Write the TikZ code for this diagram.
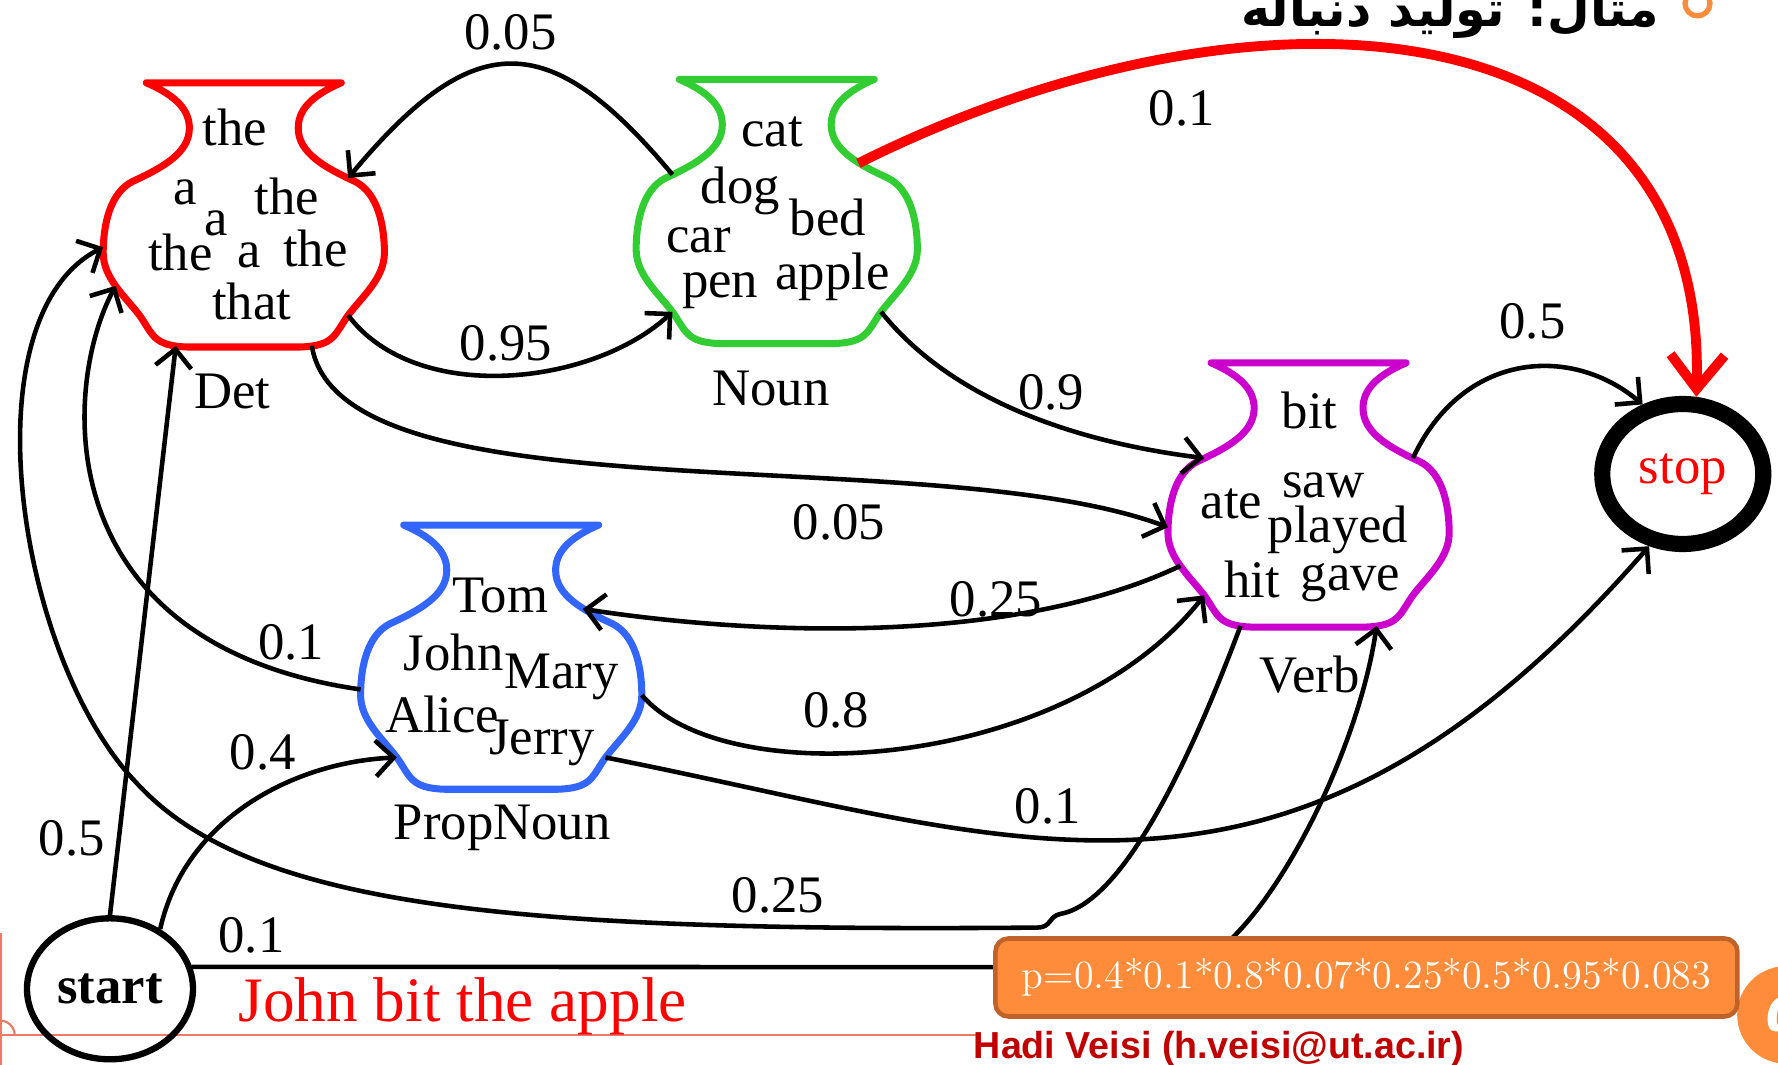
\documentclass[tikz,border=0pt]{standalone}
\usepackage{fontspec}
\newfontfamily\tmsfont{Liberation Serif}
\newfontfamily\sigfont{Liberation Sans}
\newfontfamily\arabicfont[Script=Arabic]{DejaVu Sans}
\TeXXeTstate=1
\usetikzlibrary{shapes.geometric,% ellipse nodes for start and stop
arrows.meta}%                       barbed tips on the transitions
\definecolor{detred}{RGB}{255,0,0}
\definecolor{noungreen}{RGB}{50,205,50}
\definecolor{verbpurple}{RGB}{204,0,204}
\definecolor{propblue}{RGB}{51,102,255}
\definecolor{boxorange}{RGB}{255,140,58}
\definecolor{boxrim}{RGB}{192,98,42}
\definecolor{signred}{RGB}{192,0,0}
\definecolor{rulesalmon}{RGB}{240,120,100}
\tikzset{every node/.style={font=\tmsfont\fontsize{15}{18}\selectfont},
  trans/.style={->,line width=1.3pt},
  jar/.style={line width=2pt,line join=round},
  hmmstate/.style={ellipse,draw,inner sep=0pt},
  vase/.pic={%
    \draw[jar] (-86,0) -- (86,0)
      .. controls (58,12) and (48,25) .. (48,40)
      .. controls (48,62) and (72,75) .. (98,87)
      .. controls (118,97) and (124,125) .. (124,150)
      .. controls (124,172) and (105,188) .. (92,205)
      .. controls (80,222) and (80,232) .. (50,233)
      -- (-50,233)
      .. controls (-80,232) and (-80,222) .. (-92,205)
      .. controls (-105,188) and (-124,172) .. (-124,150)
      .. controls (-124,125) and (-118,97) .. (-98,87)
      .. controls (-72,75) and (-48,62) .. (-48,40)
      .. controls (-48,25) and (-58,12) .. cycle;
    % where the transitions meet the jar
    \coordinate (-nw) at (-92,84);    \coordinate (-ne) at (92,84);
    \coordinate (-nnw) at (-72,74);   \coordinate (-nne) at (72,74);
    \coordinate (-w) at (-124,145);   \coordinate (-e) at (124,150);
    \coordinate (-wsw) at (-113,179); \coordinate (-ese) at (113,179);
    \coordinate (-sw) at (-92,205);   \coordinate (-se) at (92,205);
    \coordinate (-ssw) at (-60,232);  \coordinate (-sse) at (60,232);
  }}

\begin{document}
\begin{tikzpicture}[x=0.1134mm,y=-0.1134mm,
  >={Straight Barb[length=1.8mm,width=3.6mm]}]
  \useasboundingbox (0,0) rectangle (1568,939);
  \clip (0,0) rectangle (1568,939);
  % slide frame
  \draw[rulesalmon,line width=0.6pt] (0,913) -- (862,913);
  \draw[rulesalmon,line width=0.6pt] (1,823) -- (1,939);
  \draw[rulesalmon,line width=0.6pt] (0,900) arc[start angle=-90,end angle=0,radius=13];
  \node[anchor=base east,inner sep=0pt,
    font=\arabicfont\bfseries\fontsize{14}{17}\selectfont] (title) at (1464,23)
    {\beginR مثال: تولید دنباله\endR};
  \draw[boxorange,line width=1.5pt] (1497,3) circle[radius=11];
  \fill[boxorange] (1575,895) circle[radius=43];
  \node[text=white,font=\arabicfont\bfseries\fontsize{15}{18}\selectfont]
    (pagenum) at (1572,895) {۵};
  \node[text=signred,font=\sigfont\bfseries\fontsize{10.7}{12}\selectfont]
    (sign) at (1075,925) {Hadi Veisi (h.veisi@ut.ac.ir)};
  % the four jars of words
  \pic[detred] (det) at (215,73) {vase};
  \pic[noungreen] (noun) at (685,70) {vase};
  \pic[verbpurple] (verb) at (1154,320) {vase};
  \pic[propblue] (prop) at (442,463) {vase};
  \foreach \w/\x/\y [count=\i] in {the/207/112,a/163/170,the/253/173,a/191/197,
    the/159/223,a/220/225,the/278/219,that/222/266}
    \node (detw\i) at (\x,\y) {\w};
  \foreach \w/\x/\y [count=\i] in {cat/681/116,dog/653/168,bed/730/192,
    car/616/212,pen/635/256,apple/734/244}
    \node (nounw\i) at (\x,\y) {\w};
  \foreach \w/\x/\y [count=\i] in {bit/1155/362,saw/1167/428,ate/1086/444,
    played/1180/467,hit/1104/511,gave/1191/514}
    \node (verbw\i) at (\x,\y) {\w};
  \foreach \w/\x/\y [count=\i] in {Tom/441/525,John/400/575,Mary/495/597,
    Alice/390/630,Jerry/478/655}
    \node (propw\i) at (\x,\y) {\w};
  \node (detname) at (205,345) {Det};
  \node (nounname) at (680,343) {Noun};
  \node (verbname) at (1155,595) {Verb};
  \node (propname) at (443,730) {PropNoun};
  % start and stop
  \node[hmmstate,line width=1.8pt,minimum width=16.6mm,minimum height=14.1mm,
    font=\tmsfont\bfseries\fontsize{15}{18}\selectfont] (start) at (97,872) {start};
  \node[hmmstate,line width=4.6pt,minimum width=16.1mm,minimum height=14mm,
    text=red] (stop) at (1484,418) {stop};
  % transitions
  \draw[trans] (noun-nw) .. controls +(-110,-132) and +(110,-132) .. (det-ne)
    node[pos=.5,above]{0.05};
  \draw[trans] (det-se) .. controls +(60,80) and +(-70,65) .. (noun-sw)
    node[pos=.5,above]{0.95};
  \draw[red,line width=2.8pt,-{Straight Barb[length=3.4mm,width=5.4mm]}]
    (noun-nne) .. controls +(350,-175) and +(10,-352) .. (stop.80)
    node[pos=.27,below=5pt,text=black]{0.1};
  \draw[trans] (noun-se) .. controls +(60,75) and +(-120,-15) .. (verb-nw)
    node[pos=.6,above]{0.9};
  \draw[trans] (det-sse) .. controls +(25,155) and +(-210,-78) .. (verb-w)
    node[pos=.66,below=3pt]{0.05};
  \draw[trans] (verb-wsw) .. controls +(-150,71) and +(150,23) .. (prop-nne)
    node[pos=.32,above=-4pt]{0.25};
  \draw[trans] (prop-e) .. controls +(74,87) and +(-122,155) .. (verb-sw)
    node[pos=.4,above=3pt]{0.8};
  \draw[trans] (prop-se) .. controls +(366,72) and +(-320,367) .. (stop.245)
    node[pos=.4,above]{0.1};
  \draw[trans] (prop-w) .. controls +(-278,-40) and +(-47,88) .. (det-wsw)
    node[pos=.08,above]{0.1};
  \draw[trans] (verb-ssw) .. controls +(-60,160) and +(45,-8) .. (935,806)
    .. controls +(-10,2) and +(12,0) .. (915,818)
    .. controls (450,822) and (220,800) .. (120,690) node[pos=.18,above]{0.25}
    .. controls (15,580) and (-30,280) .. (det-w);
  \draw[trans] (start.north) -- (det-ssw) node[pos=.135,left]{0.5};
  \draw[trans] (start.50) .. controls +(22,-98) and +(-90,4) .. (prop-sw)
    node[pos=.55,above=3pt]{0.4};
  \draw[trans] (start.15) -- (1040,853) node[pos=.06,above]{0.1}
    .. controls (1100,853) and (1195,680) .. (verb-sse);
  \draw[trans] (verb-ne) .. controls +(44,-94) and +(-63,-53) .. (stop.120)
    node[pos=.55,above=4pt]{0.5};
  % sentence and its probability
  \node[text=red,font=\tmsfont\fontsize{18}{21}\selectfont] (sentence)
    at (408,887) {John bit the apple};
  \node[draw=boxrim,fill=boxorange,line width=1.3pt,rounded corners=1.3mm,
    minimum width=74.2mm,minimum height=7.8mm,text=white,
    font=\rmfamily\fontsize{11.4}{13}\selectfont] (prob) at (1205,862)
    {p=0.4*0.1*0.8*0.07*0.25*0.5*0.95*0.083};
\end{tikzpicture}
\end{document}
